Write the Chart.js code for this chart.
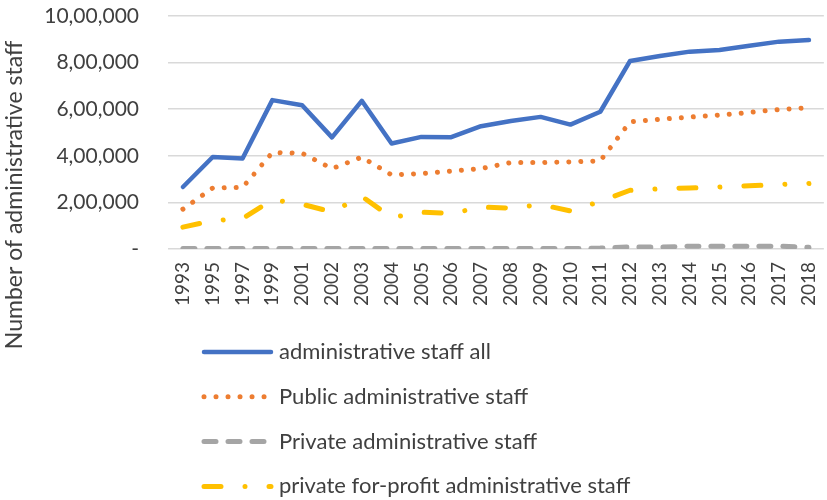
<!DOCTYPE html>
<html>
<head>
<meta charset="utf-8">
<script src="https://cdn.jsdelivr.net/npm/chart.js@4/dist/chart.umd.min.js"></script>
<style>
  body { margin: 0; overflow: hidden; background: #fff; }
</style>
</head>
<body>
<canvas id="staff-chart" width="845" height="500"></canvas>
<script>
const years = ['1993', '1995', '1997', '1999', '2001', '2002', '2003', '2004', '2005', '2006', '2007',
    '2008', '2009', '2010', '2011', '2012', '2013', '2014', '2015', '2016', '2017', '2018'];

const allStaff = [266000, 395000, 388000, 639000, 617000, 479000, 636000, 453000, 481000, 480000, 527000,
    549000, 567000, 534000, 589000, 807000, 828000, 847000, 854000, 872000, 890000, 897000];

const publicStaff = [171000, 262000, 264000, 414000, 411000, 345000, 394000, 318000, 324000, 334000, 345000,
    371000, 371000, 374000, 378000, 546000, 557000, 566000, 575000, 586000, 599000, 606000];

const privateStaff = [2000, 2000, 2000, 2000, 2000, 2000, 2000, 2000, 2000, 2000, 2000,
    2000, 2000, 2000, 4000, 9000, 8000, 12000, 12000, 12000, 12000, 7000];

const forProfitStaff = [94000, 122000, 130000, 212000, 192000, 159000, 226000, 135000, 158000, 152000, 180000,
    175000, 191000, 163000, 204000, 252000, 258000, 262000, 266000, 271000, 277000, 281000];

const yTicks = [0, 200000, 400000, 600000, 800000, 1000000];

const FONT = 'Lato, "Open Sans", sans-serif';
const TEXT = '#404040';

// Indian digit grouping: 10,00,000
function indianFormat(v) {
    if (v === 0) return '-';
    let s = String(Math.round(v));
    let last3 = s.slice(-3);
    let rest = s.slice(0, -3);
    if (rest) {
        rest = rest.replace(/\B(?=(\d{2})+(?!\d))/g, ',');
        return rest + ',' + last3;
    }
    return last3;
}

// vertical legend underneath the plot plus the rotated y title
const sideText = {
    id: 'sideText',
    afterDraw(chart) {
        const ctx = chart.ctx;
        ctx.save();
        ctx.fillStyle = TEXT;
        ctx.font = '22px ' + FONT;
        ctx.textBaseline = 'middle';
        chart.data.datasets.forEach(function (ds, i) {
            const y = 352 + i * 44.8;
            ctx.save();
            ctx.strokeStyle = ds.borderColor;
            ctx.lineWidth = ds.borderWidth;
            ctx.lineCap = 'round';
            ctx.setLineDash(ds.borderDash || []);
            ctx.beginPath();
            ctx.moveTo(204, y);
            ctx.lineTo(271, y);
            ctx.stroke();
            ctx.restore();
            ctx.textAlign = 'left';
            ctx.fillText(ds.label, 279, y);
        });

        ctx.font = '23px ' + FONT;
        ctx.translate(15, 195);
        ctx.rotate(-Math.PI / 2);
        ctx.textAlign = 'center';
        ctx.fillText('Number of administrative staff', 0, 0);
        ctx.restore();
    }
};

new Chart(document.getElementById('staff-chart'), {
    type: 'line',
    data: {
        labels: years,
        datasets: [{
            label: 'administrative staff all',
            data: allStaff,
            borderColor: '#4472C4',
            borderWidth: 4.5,
            borderDash: [],
        }, {
            label: 'Public administrative staff',
            data: publicStaff,
            borderColor: '#ED7D31',
            borderWidth: 5,
            borderDash: [0.01, 12],
        }, {
            label: 'Private administrative staff',
            data: privateStaff,
            borderColor: '#A5A5A5',
            borderWidth: 5,
            borderDash: [12, 12],
        }, {
            label: 'private for-profit administrative staff',
            data: forProfitStaff,
            borderColor: '#FFC000',
            borderWidth: 5,
            borderDash: [17, 24, 0.01, 24],
        }]
    },
    options: {
        responsive: false,
        animation: false,
        layout: {
            padding: { top: 16, right: 11, bottom: 191, left: 0 }
        },
        elements: {
            point: { radius: 0 },
            line: { tension: 0, borderCapStyle: 'round', borderJoinStyle: 'round', fill: false }
        },
        plugins: {
            legend: { display: false },
            tooltip: { enabled: false }
        },
        scales: {
            x: {
                offset: true,
                grid: { display: false, drawTicks: false },
                border: { display: false },
                ticks: {
                    color: TEXT,
                    font: { family: FONT, size: 19 },
                    maxRotation: 90,
                    minRotation: 90,
                    autoSkip: false,
                    padding: 13
                },
                afterFit(scale) { scale.height = 60; }
            },
            y: {
                min: 0,
                max: 1000000,
                afterBuildTicks(scale) {
                    scale.ticks = yTicks.map(v => ({ value: v }));
                },
                grid: {
                    color: '#D9D9D9',
                    lineWidth: 1.5,
                    drawTicks: true,
                    tickLength: 29,
                    tickColor: 'rgba(0,0,0,0)'
                },
                border: { display: false },
                ticks: {
                    color: TEXT,
                    font: { family: FONT, size: 21 },
                    padding: 0,
                    callback: v => indianFormat(v)
                },
                afterFit(scale) { scale.width = 168; }
            }
        }
    },
    plugins: [sideText]
});
</script>
</body>
</html>
